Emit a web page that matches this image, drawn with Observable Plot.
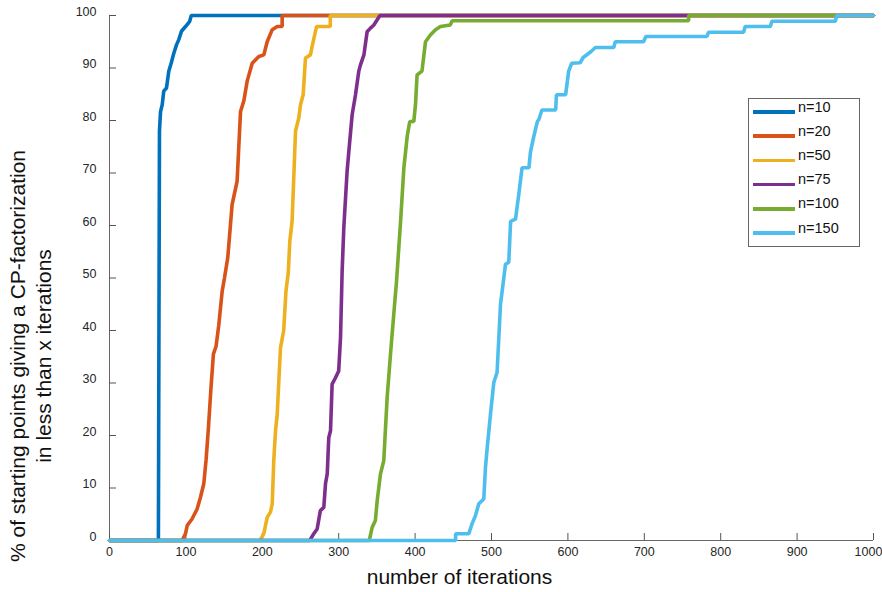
<!DOCTYPE html>
<html>
<head>
<meta charset="utf-8">
<script src="https://cdn.jsdelivr.net/npm/d3@7"></script>
<script src="https://cdn.jsdelivr.net/npm/@observablehq/plot@0.6"></script>
<style>
  html, body { margin: 0; padding: 0; background: #fff; }
  #wrap { position: relative; width: 882px; height: 592px; font-family: "Liberation Sans", Arial, sans-serif; }
  #legend { position: absolute; left: 748px; top: 98px; width: 112px; height: 149px; border: 1px solid #666; background: #fff; box-sizing: border-box; }
  #legend .sw { position: absolute; left: 4px; width: 42px; height: 3.5px; }
  #legend .lb { position: absolute; left: 49px; font-size: 14.5px; line-height: 16px; height: 16px; color: #111; white-space: nowrap; }
</style>
</head>
<body>
<div id="wrap"><div id="legend"></div></div>
<script>
const seriesNames = ["n=10", "n=20", "n=50", "n=75", "n=100", "n=150"];
const seriesColors = ["#0072BD", "#D95319", "#EDB120", "#7E2F8E", "#77AC30", "#4DBEEE"];
const xTicks = [0, 100, 200, 300, 400, 500, 600, 700, 800, 900, 1000];
const yTicks = [0, 10, 20, 30, 40, 50, 60, 70, 80, 90, 100];

const iters10 = [0, 64, 65.4, 66.8, 69, 71, 74.6, 77.6, 80.7, 84.2, 87.7, 90.7, 94.2, 99.5, 105, 107, 1000];
const pct10   = [0, 0, 78, 81.7, 83, 85.6, 86.2, 89.4, 90.9, 92.8, 94.4, 95.4, 97, 97.9, 98.9, 100, 100];

const iters20 = [0, 95, 99.5, 101.7, 108, 114.7, 119, 123.4, 126.5, 129.5, 132.8, 136, 139.5, 143, 147.5, 150.5, 154.8, 160.5, 167, 171.5, 175.8, 180.2, 186.8, 195.5, 202, 206.4, 213, 219.5, 226, 226, 1000];
const pct20   = [0, 0, 1.3, 2.85, 4.1, 6, 8.2, 10.8, 15.5, 21.5, 29, 35.5, 37, 41, 47.5, 50, 53.9, 64, 68.4, 81.7, 83.7, 87.5, 90.9, 92.2, 92.5, 95, 97.3, 97.9, 97.9, 100, 100];

const iters50 = [0, 197, 202, 206.4, 210.7, 213, 215, 217.3, 219.5, 223.8, 228, 231, 234, 236, 239, 243.5, 247.8, 250, 253.5, 256.5, 263, 265.2, 271, 289, 289, 1000];
const pct50   = [0, 0, 1.3, 4.4, 5.4, 7, 15.2, 20.9, 24, 36.7, 40, 47.5, 51, 57, 60.8, 78, 80.5, 83, 84.9, 91.9, 92.5, 94.1, 97.9, 97.9, 100, 100];

const iters75 = [0, 262, 267.4, 271.8, 276, 280.5, 282.7, 285, 287, 289.3, 291.4, 295.8, 300, 302.4, 304.5, 306.7, 311, 313.2, 317.6, 322, 326.3, 328.5, 333, 337.2, 341.6, 346, 350.4, 354, 1000];
const pct75   = [0, 0, 1.3, 2.2, 5.7, 6.3, 10.8, 12.7, 19.6, 20.9, 29.8, 31, 32.3, 38.7, 51.3, 59.6, 70.3, 74, 81.1, 84.9, 89.4, 90.6, 92.5, 96.9, 97.6, 98.2, 99.2, 100, 100];

const iters100 = [0, 340, 343.8, 348, 350.4, 354.7, 359, 363.4, 367.8, 372.1, 375.7, 381, 385.3, 389.7, 393, 398.3, 400.5, 402.6, 409, 413.6, 420, 426.7, 433.2, 446, 448.5, 758, 758, 1000];
const pct100   = [0, 0, 2.5, 3.8, 7.6, 12.7, 15.2, 27.2, 35.5, 43.1, 49.4, 60.8, 71, 77, 79.8, 79.8, 83, 88.7, 89.4, 95, 96.3, 97.3, 97.9, 98.2, 99, 99, 100, 100];

const iters150 = [0, 453, 453, 470.3, 474.6, 479, 483.4, 489.9, 492.1, 494.4, 498.7, 503, 507.3, 511.8, 518.3, 522.6, 525, 531.4, 535.7, 540, 549, 551, 555.4, 560, 562, 566, 584, 585, 597, 601, 605, 616, 620, 630, 636, 660, 662, 699, 702, 782, 784, 830, 832, 865, 867, 950, 952, 1000];
const pct150   = [0, 0, 1.3, 1.3, 3.2, 4.75, 7, 7.9, 13.9, 17.7, 24.1, 30.1, 32, 45, 52.6, 53, 60.8, 61.2, 65.9, 71, 71, 74, 77, 79.8, 80.2, 82, 82, 84.9, 84.9, 89.4, 90.9, 91, 92, 93.1, 93.9, 93.9, 95, 95, 96, 96, 96.8, 96.8, 97.9, 97.9, 98.9, 98.9, 100, 100];

const seriesIters = [iters10, iters20, iters50, iters75, iters100, iters150];
const seriesPct = [pct10, pct20, pct50, pct75, pct100, pct150];

const tables = seriesNames.map((name, s) =>
  seriesIters[s].map((x, i) => ({series: name, iters: x, pct: seriesPct[s][i]}))
);

const W = 882, H = 592, mL = 109, mR = 9, mT = 15, mB = 52;
const pxPerX = (W - mL - mR) / 1000;
const pxPerY = (H - mT - mB) / 100;
const tickLen = 7;
const tickFont = 12.5;

const chart = Plot.plot({
  width: W, height: H,
  marginLeft: mL, marginRight: mR, marginTop: mT, marginBottom: mB,
  style: {fontFamily: "'Liberation Sans', Arial, sans-serif", background: "white", color: "#262626", overflow: "visible"},
  x: {domain: [0, 1000]},
  y: {domain: [0, 100]},
  color: {domain: seriesNames, range: seriesColors},
  marks: [
    Plot.axisX(xTicks.slice(0, -1), {tickSize: 0, tickPadding: 7, fontSize: tickFont, tickFormat: d => String(d), label: null, fill: "#262626"}),
    Plot.text(xTicks.slice(-1), {x: d => d, frameAnchor: "bottom", dy: 7, dx: -5, lineAnchor: "top", fontSize: tickFont, text: d => String(d), fill: "#262626"}),
    Plot.axisY(yTicks, {tickSize: 0, tickPadding: 13, fontSize: tickFont, tickFormat: d => String(d), label: null, dy: -4, fill: "#262626"}),
    Plot.ruleX([0], {y1: 0, y2: 100, stroke: "#666", strokeWidth: 1}),
    Plot.ruleY([0], {x1: 0, x2: 1000, stroke: "#666", strokeWidth: 1}),
    Plot.ruleY(yTicks, {x1: 0, x2: tickLen / pxPerX, stroke: "#555", strokeWidth: 1}),
    Plot.ruleX(xTicks, {y1: 0, y2: tickLen / pxPerY, stroke: "#555", strokeWidth: 1}),
    ...tables.map(t => Plot.line(t, {x: "iters", y: "pct", stroke: "series", strokeWidth: 3.6, strokeLinejoin: "miter"})),
    Plot.text(["number of iterations"], {frameAnchor: "bottom", dy: 37, dx: -32, fontSize: 21, lineAnchor: "middle", fill: "#111"}),
    Plot.text(["% of starting points giving a CP-factorization"], {frameAnchor: "left", rotate: -90, dx: -91, dy: 78, fontSize: 21, lineAnchor: "middle", textAnchor: "middle", fill: "#111"}),
    Plot.text(["in less than x iterations"], {frameAnchor: "left", rotate: -90, dx: -65, dy: 78, fontSize: 21, lineAnchor: "middle", textAnchor: "middle", fill: "#111"})
  ]
});

const wrap = document.getElementById("wrap");
wrap.insertBefore(chart, wrap.firstChild);

const legend = document.getElementById("legend");
seriesNames.forEach((name, i) => {
  const sw = document.createElement("div");
  sw.className = "sw";
  sw.style.top = (13 + 24.2 * i - 1.75) + "px";
  sw.style.background = seriesColors[i];
  legend.appendChild(sw);
  const lb = document.createElement("div");
  lb.className = "lb";
  lb.style.top = (7.5 + 24.2 * i - 8) + "px";
  lb.textContent = name;
  legend.appendChild(lb);
});
</script>
</body>
</html>
